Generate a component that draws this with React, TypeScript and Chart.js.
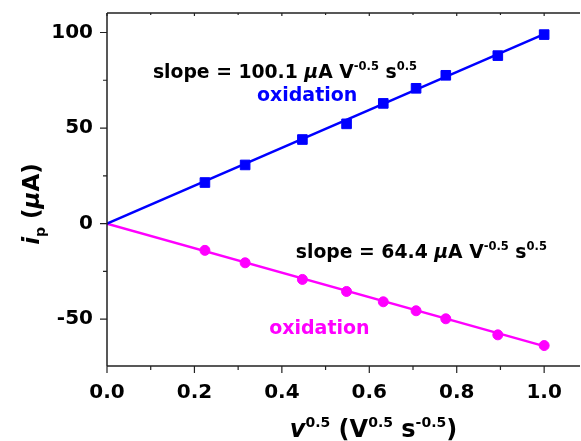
import React, { useEffect, useRef } from 'react';
import { Chart, registerables } from 'chart.js';

Chart.register(...registerables);

// sqrt of scan rate (V^0.5 s^-0.5)
const scanRateSqrt = [0.224, 0.316, 0.447, 0.548, 0.632, 0.707, 0.775, 0.894, 1.0];
// peak currents (µA)
const oxidationPeak = [21.5, 30.7, 44.0, 52.2, 62.9, 70.8, 77.6, 87.9, 98.9];
const reductionPeak = [-14.0, -20.5, -29.2, -35.5, -40.9, -45.6, -49.8, -58.2, -63.8];
// linear fits
const fitX = [0, 1.0];
const oxidationFit = [0, 99.2];
const reductionFit = [0, -64.1];
// ticks
const xMajorTicks = [0, 0.2, 0.4, 0.6, 0.8, 1.0];
const xMinorTicks = [0.1, 0.3, 0.5, 0.7, 0.9];
const yMajorTicks = [-50, 0, 50, 100];
const yMinorTicks = [-25, 25, 75];

const FONT = "'DejaVu Sans', sans-serif";
const BLUE = '#0000ff';
const MAGENTA = '#ff00ff';
const AXIS = '#222222';

type Seg = { t: string; size: number; italic?: boolean; dy?: number };

function fontOf(s: Seg) {
  return `${s.italic ? 'italic ' : ''}bold ${s.size}px ${FONT}`;
}

function drawRich(ctx: CanvasRenderingContext2D, segs: Seg[], x: number, y: number, color: string, align: 'left' | 'center') {
  ctx.save();
  ctx.textBaseline = 'alphabetic';
  ctx.textAlign = 'left';
  ctx.fillStyle = color;
  const widths = segs.map((s) => {
    ctx.font = fontOf(s);
    return ctx.measureText(s.t).width;
  });
  const total = widths.reduce((a, b) => a + b, 0);
  let cx = align === 'center' ? x - total / 2 : x;
  segs.forEach((s, i) => {
    ctx.font = fontOf(s);
    ctx.fillText(s.t, cx, y + (s.dy || 0));
    cx += widths[i];
  });
  ctx.restore();
}

const decorPlugin = {
  id: 'decor',
  afterDraw(chart: any) {
    const ctx: CanvasRenderingContext2D = chart.ctx;
    const xs = chart.scales.x;
    const ys = chart.scales.y;
    const { left, right, top, bottom } = chart.chartArea;

    ctx.save();
    ctx.strokeStyle = AXIS;
    ctx.lineWidth = 1.5;
    ctx.beginPath();
    ctx.moveTo(left, top);
    ctx.lineTo(left, bottom);
    ctx.moveTo(left, bottom);
    ctx.lineTo(right, bottom);
    ctx.moveTo(left, top);
    ctx.lineTo(right, top);
    ctx.stroke();

    ctx.lineWidth = 1.2;
    ctx.beginPath();
    xMajorTicks.forEach((v) => {
      const p = xs.getPixelForValue(v);
      ctx.moveTo(p, bottom);
      ctx.lineTo(p, bottom + 7);
      ctx.moveTo(p, top);
      ctx.lineTo(p, top + 3);
    });
    xMinorTicks.forEach((v) => {
      const p = xs.getPixelForValue(v);
      ctx.moveTo(p, bottom);
      ctx.lineTo(p, bottom + 4);
      ctx.moveTo(p, top);
      ctx.lineTo(p, top + 2);
    });
    yMajorTicks.forEach((v) => {
      const p = ys.getPixelForValue(v);
      ctx.moveTo(left, p);
      ctx.lineTo(left - 7, p);
    });
    yMinorTicks.forEach((v) => {
      const p = ys.getPixelForValue(v);
      ctx.moveTo(left, p);
      ctx.lineTo(left - 4, p);
    });
    ctx.stroke();
    ctx.restore();

    // annotations
    drawRich(
      ctx,
      [
        { t: 'slope = 100.1 ', size: 18.8 },
        { t: 'μ', size: 18.8, italic: true },
        { t: 'A V', size: 18.8 },
        { t: '-0.5', size: 11.5, dy: -8 },
        { t: ' s', size: 18.8 },
        { t: '0.5', size: 11.5, dy: -8 },
      ],
      xs.getPixelForValue(0.105),
      ys.getPixelForValue(76.2),
      '#000',
      'left'
    );
    drawRich(ctx, [{ t: 'oxidation', size: 19 }], xs.getPixelForValue(0.343), ys.getPixelForValue(64.4), BLUE, 'left');
    drawRich(
      ctx,
      [
        { t: 'slope = 64.4 ', size: 18.8 },
        { t: 'μ', size: 18.8, italic: true },
        { t: 'A V', size: 18.8 },
        { t: '-0.5', size: 11.5, dy: -8 },
        { t: ' s', size: 18.8 },
        { t: '0.5', size: 11.5, dy: -8 },
      ],
      xs.getPixelForValue(0.432),
      ys.getPixelForValue(-17.8),
      '#000',
      'left'
    );
    drawRich(ctx, [{ t: 'oxidation', size: 19 }], xs.getPixelForValue(0.371), ys.getPixelForValue(-58.0), MAGENTA, 'left');

    // x axis title
    drawRich(
      ctx,
      [
        { t: 'v', size: 24, italic: true },
        { t: '0.5', size: 14, dy: -10 },
        { t: ' (V', size: 24 },
        { t: '0.5', size: 14, dy: -10 },
        { t: ' s', size: 24 },
        { t: '-0.5', size: 14, dy: -10 },
        { t: ')', size: 24 },
      ],
      373.5,
      437,
      '#000',
      'center'
    );

    // y axis title (rotated)
    ctx.save();
    ctx.translate(39, 204);
    ctx.rotate(-Math.PI / 2);
    drawRich(
      ctx,
      [
        { t: 'i', size: 23, italic: true },
        { t: 'p', size: 14, dy: 6 },
        { t: ' (', size: 23 },
        { t: 'μ', size: 23, italic: true },
        { t: 'A)', size: 23 },
      ],
      0,
      0,
      '#000',
      'center'
    );
    ctx.restore();
  },
};

export default function App() {
  const canvasRef = useRef<HTMLCanvasElement | null>(null);

  useEffect(() => {
    if (!canvasRef.current) return;
    const toXY = (xs: number[], ys: number[]) => xs.map((x, i) => ({ x, y: ys[i] }));
    const chart = new Chart(canvasRef.current, {
      type: 'scatter',
      data: {
        datasets: [
          {
            label: 'oxidation points',
            data: toXY(scanRateSqrt, oxidationPeak),
            pointStyle: 'rect',
            pointRadius: 6.8,
            pointBackgroundColor: BLUE,
            pointBorderColor: BLUE,
            pointBorderWidth: 1,
            showLine: false,
            order: 0,
          },
          {
            label: 'reduction points',
            data: toXY(scanRateSqrt, reductionPeak),
            pointStyle: 'circle',
            pointRadius: 5,
            pointBackgroundColor: MAGENTA,
            pointBorderColor: MAGENTA,
            pointBorderWidth: 1,
            showLine: false,
            order: 1,
          },
          {
            label: 'oxidation fit',
            data: toXY(fitX, oxidationFit),
            showLine: true,
            borderColor: BLUE,
            borderWidth: 2.5,
            pointRadius: 0,
            order: 2,
          },
          {
            label: 'reduction fit',
            data: toXY(fitX, reductionFit),
            showLine: true,
            borderColor: MAGENTA,
            borderWidth: 2.5,
            pointRadius: 0,
            order: 3,
          },
        ],
      },
      options: {
        responsive: false,
        animation: false,
        devicePixelRatio: 1,
        layout: { autoPadding: false, padding: { top: 13, right: 1, left: 0, bottom: 0 } },
        plugins: {
          legend: { display: false },
          tooltip: { enabled: false },
        },
        scales: {
          x: {
            type: 'linear',
            min: 0,
            max: 1.082,
            afterFit: (s: any) => {
              s.height = 75;
              s.paddingLeft = 0;
              s.paddingRight = 0;
              s.paddingTop = 0;
              s.paddingBottom = 0;
            },
            grid: { display: false, drawTicks: true, tickLength: 7 },
            border: { display: false },
            ticks: {
              stepSize: 0.2,
              includeBounds: false,
              maxRotation: 0,
              autoSkip: false,
              padding: 8,
              color: '#000',
              font: { family: FONT, weight: 'bold', size: 20 },
              callback: (v: any) => Number(v).toFixed(1),
            },
          },
          y: {
            type: 'linear',
            min: -74.5,
            max: 110.2,
            afterFit: (s: any) => {
              s.width = 107;
              s.paddingLeft = 0;
              s.paddingRight = 0;
              s.paddingTop = 0;
              s.paddingBottom = 0;
            },
            grid: { display: false, drawTicks: true, tickLength: 7 },
            border: { display: false },
            ticks: {
              stepSize: 50,
              includeBounds: false,
              autoSkip: false,
              padding: 7,
              color: '#000',
              font: { family: FONT, weight: 'bold', size: 20 },
              callback: (v: any) => String(v),
            },
          },
        },
      } as any,
      plugins: [decorPlugin],
    });
    return () => chart.destroy();
  }, []);

  return (
    <div style={{ position: 'fixed', left: 0, top: 0, width: 581, height: 441, background: '#fff' }}>
      <canvas ref={canvasRef} width={581} height={441} style={{ display: 'block' }} />
    </div>
  );
}
